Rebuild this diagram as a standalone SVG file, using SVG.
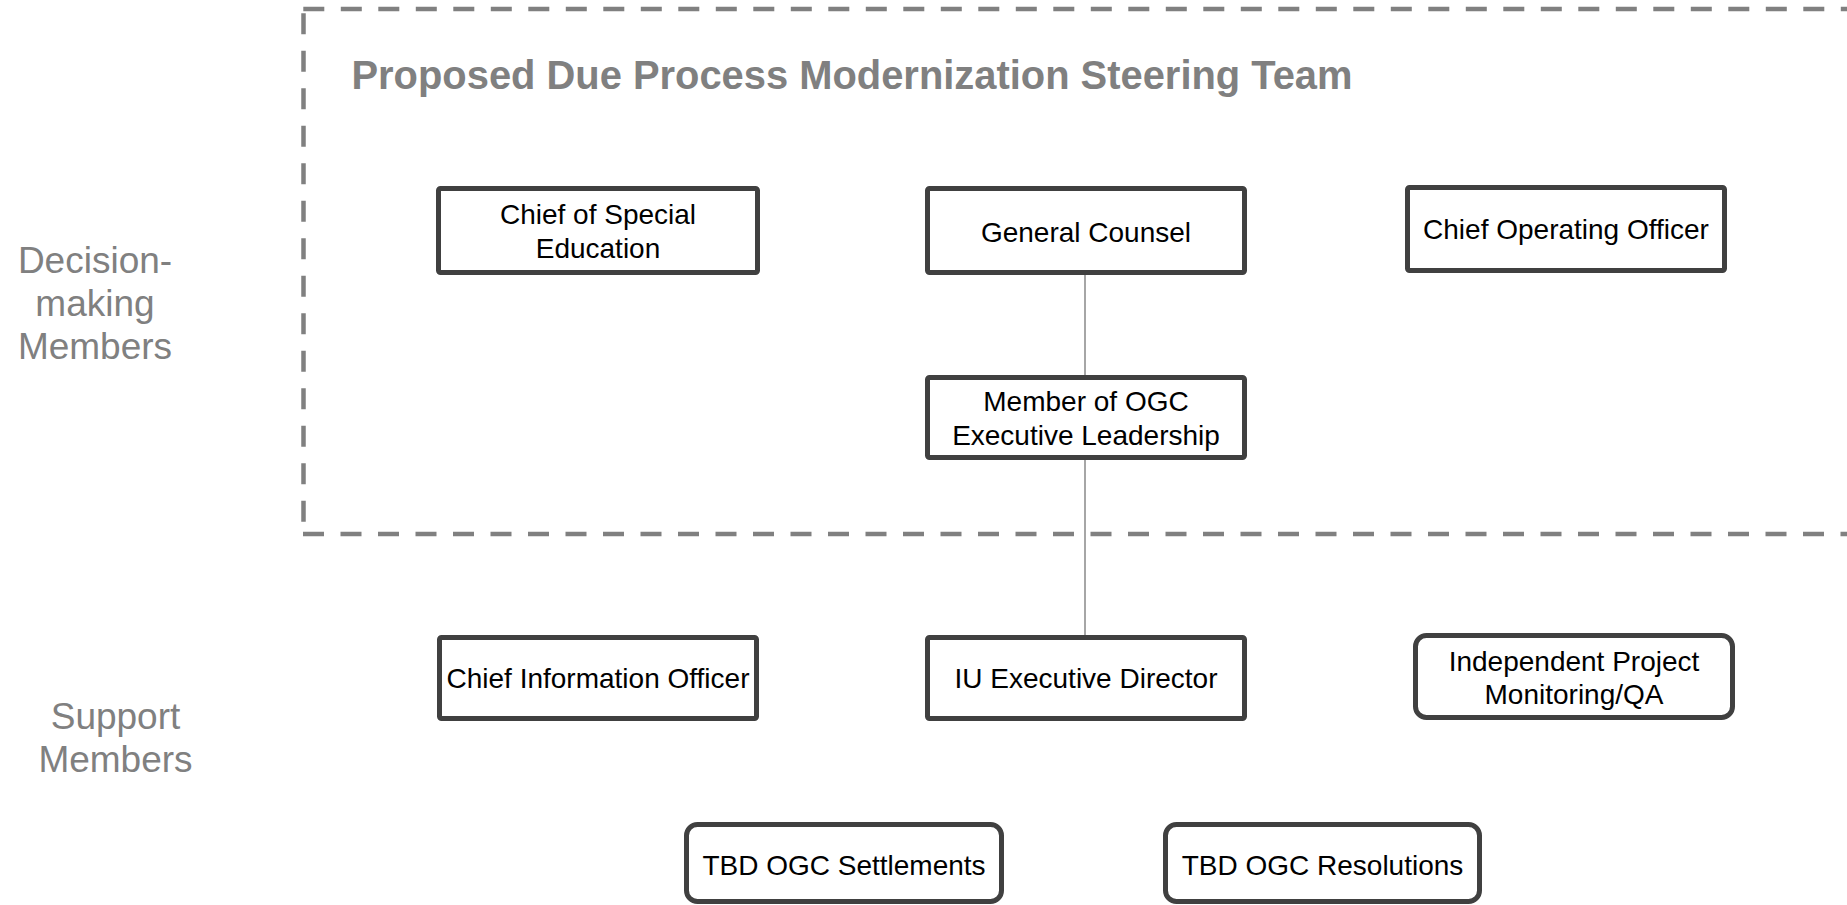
<svg xmlns="http://www.w3.org/2000/svg" width="1847" height="905" viewBox="0 0 1847 905">
  <style>
    .box { fill: #ffffff; stroke: #404040; stroke-width: 5; }
    .lbl { font-family: "Liberation Sans", Arial, sans-serif; font-size: 28px; fill: #000000; text-anchor: middle; }
    .side { font-family: "Liberation Sans", Arial, sans-serif; font-size: 37px; fill: #808080; text-anchor: middle; }
    .title { font-family: "Liberation Sans", Arial, sans-serif; font-size: 40px; font-weight: bold; fill: #808080; }
    .dash { fill: none; stroke: #808080; stroke-width: 4.5; stroke-dasharray: 21 16.5; }
    .conn { fill: none; stroke: #a6a6a6; stroke-width: 2; }
  </style>
  <rect width="1847" height="905" fill="#ffffff"/>

  <g id="steering-team-frame">
    <line class="dash" x1="303.3" y1="9" x2="1900" y2="9"/>
    <line class="dash" x1="303.5" y1="13.3" x2="303.5" y2="534"/>
    <line class="dash" x1="303" y1="534" x2="1900" y2="534"/>
    <text class="title" x="351.5" y="89" textLength="1001" lengthAdjust="spacingAndGlyphs">Proposed Due Process Modernization Steering Team</text>
  </g>

  <g id="side-labels">
    <text class="side" x="95" y="273">Decision-</text>
    <text class="side" x="95" y="316">making</text>
    <text class="side" x="95" y="359">Members</text>
    <text class="side" x="115.5" y="729">Support</text>
    <text class="side" x="115.5" y="772">Members</text>
  </g>

  <g id="connectors">
    <line class="conn" x1="1085" y1="272" x2="1085" y2="377.5"/>
    <line class="conn" x1="1085" y1="457.5" x2="1085" y2="637.5"/>
  </g>

  <g id="chief-special-education">
    <rect class="box" x="438.5" y="188.5" width="319" height="84" rx="2"/>
    <text class="lbl" x="598" y="223.5">Chief of Special</text>
    <text class="lbl" x="598" y="257.5">Education</text>
  </g>

  <g id="general-counsel">
    <rect class="box" x="927.5" y="188.5" width="317" height="84" rx="2"/>
    <text class="lbl" x="1086" y="241.5">General Counsel</text>
  </g>

  <g id="chief-operating-officer">
    <rect class="box" x="1407.5" y="187.5" width="317" height="83" rx="2"/>
    <text class="lbl" x="1566" y="238.5">Chief Operating Officer</text>
  </g>

  <g id="ogc-executive-leadership">
    <rect class="box" x="927.5" y="377.5" width="317" height="80" rx="2"/>
    <text class="lbl" x="1086" y="411">Member of OGC</text>
    <text class="lbl" x="1086" y="444.5">Executive Leadership</text>
  </g>

  <g id="chief-information-officer">
    <rect class="box" x="439.5" y="637.5" width="317" height="81" rx="2"/>
    <text class="lbl" x="598" y="687.5">Chief Information Officer</text>
  </g>

  <g id="iu-executive-director">
    <rect class="box" x="927.5" y="637.5" width="317" height="81" rx="2"/>
    <text class="lbl" x="1086" y="687.5">IU Executive Director</text>
  </g>

  <g id="independent-project-monitoring">
    <rect class="box" x="1415.5" y="635.5" width="317" height="82" rx="11"/>
    <text class="lbl" x="1574" y="671">Independent Project</text>
    <text class="lbl" x="1574" y="704">Monitoring/QA</text>
  </g>

  <g id="tbd-ogc-settlements">
    <rect class="box" x="686.5" y="824.5" width="315" height="77" rx="11"/>
    <text class="lbl" x="844" y="875">TBD OGC Settlements</text>
  </g>

  <g id="tbd-ogc-resolutions">
    <rect class="box" x="1165.5" y="824.5" width="314" height="77" rx="11"/>
    <text class="lbl" x="1322.5" y="875">TBD OGC Resolutions</text>
  </g>
</svg>
